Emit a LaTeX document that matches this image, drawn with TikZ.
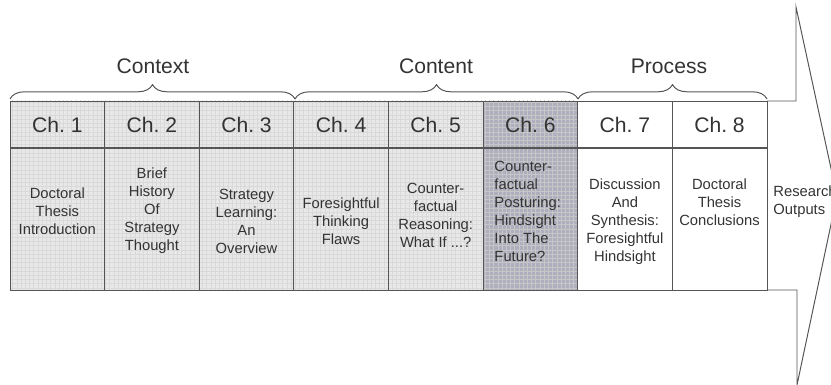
\documentclass[tikz,border=0pt]{standalone}
\usepackage{fontspec}
\setmainfont{Liberation Sans}
\usetikzlibrary{decorations.pathreplacing, patterns}
\definecolor{lineg}{RGB}{85,85,85}
\definecolor{hatchg}{RGB}{232,232,232}
\definecolor{sixg}{RGB}{174,174,190}

\begin{document}
\begin{tikzpicture}[x=0.025cm,y=-0.025cm,line width=0.7pt,
  head/.style={font=\fontsize{15}{18}\selectfont,text=black!80},
  body/.style={font=\fontsize{10.5}{12.8}\selectfont,text=black!80,align=center,inner sep=0pt},
  stage/.style={font=\fontsize{15}{18}\selectfont,text=black!80},
  curly/.style={draw=lineg,decorate,decoration={brace,amplitude=0.36cm}}]
  \useasboundingbox (0,0) rectangle (831,385);
  % cell width 94.6, table 10..767, rows 101/148/290
  % hatched cells ch1-ch5
  \foreach \i in {0,...,4}{
    \fill[hatchg] (10+94.6*\i,101) rectangle (10+94.6*\i+94.6,290);
    \fill[pattern=grid,pattern color=gray!30] (10+94.6*\i,101) rectangle (10+94.6*\i+94.6,290);}
  % ch6 highlighted
  \fill[sixg] (483,101) rectangle (577.6,290);
  \fill[pattern=grid,pattern color=gray!45] (483,101) rectangle (577.6,290);
  % arrow outline
  \draw[lineg] (767,101)--(796,101)--(796,7)--(837,196)--(797,385)--(797,290)--(767,290);
  % table lines
  \draw[lineg] (10,101) rectangle (767,290);
  \draw[lineg,line width=1.4pt] (10,148)--(767,148);
  \foreach \i in {1,...,7}
    \draw[lineg] (10+94.6*\i,101)--(10+94.6*\i,290);
  % braces
  \coordinate (c0) at (10,99);
  \coordinate (c1) at (295,99);
  \coordinate (c2) at (578,99);
  \coordinate (c3) at (767,99);
  \draw[curly] (c0)--(c1);
  \draw[curly] (c1)--(c2);
  \draw[curly] (c2)--(c3);
  \node[stage] (context) at (153,66){Context};
  \node[stage] (content) at (436,66){Content};
  \node[stage] (process) at (669,66){Process};
  % chapter heads
  \foreach \i in {1,...,8}
    \node[head] (h\i) at (10+94.6*\i-47.3,124.5){Ch.~\i};
  % chapter texts
  \foreach \i/\y/\txt in {1/211/{Doctoral\\Thesis\\Introduction},
      2/211/{Brief\\History\\Of\\Strategy\\Thought},
      3/221/{Strategy\\Learning:\\An\\Overview},
      4/221/{Foresightful\\Thinking\\Flaws},
      5/215/{Counter-\\factual\\Reasoning:\\What If ...?},
      7/222/{Discussion\\And\\Synthesis:\\Foresightful\\Hindsight},
      8/202/{Doctoral\\Thesis\\Conclusions}}
    \node[body] (b\i) at (10+94.6*\i-47.3,\y){\txt};
  \node[body,align=left,anchor=west] (b6) at (494,211)
    {Counter-\\factual\\Posturing:\\Hindsight\\Into The\\Future?};
  \node[body,align=left,anchor=west] (outputs) at (773,202){Research\\Outputs};
\end{tikzpicture}
\end{document}
